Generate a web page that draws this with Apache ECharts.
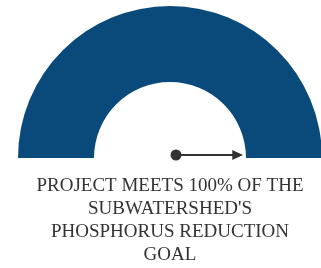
<!DOCTYPE html>
<html>
<head>
<meta charset="utf-8">
<script src="https://cdn.jsdelivr.net/npm/echarts@6/dist/echarts.min.js"></script>
<style>
  html, body { margin: 0; padding: 0; background: #fff; }
  #chart { width: 321px; height: 268px; }
</style>
</head>
<body>
<div id="chart"></div>
<script>
// gauge value (percent of goal met)
var gaugeValues = [100];
var gaugeRange = [0, 100];
// caption lines below the gauge
var captionLines = [
    "PROJECT MEETS 100% OF THE",
    "SUBWATERSHED'S",
    "PHOSPHORUS REDUCTION",
    "GOAL"
];

var chart = echarts.init(document.getElementById('chart'));
var option = {
    animation: false,
    graphic: [{
        type: 'text',
        x: 170,
        y: 175,
        style: {
            text: captionLines.join('\n'),
            textAlign: 'center',
            textVerticalAlign: 'top',
            fontFamily: 'Liberation Serif',
            fontSize: 19,
            lineHeight: 23,
            fill: '#333'
        }
    }],
    series: [{
        type: 'gauge',
        center: [170, 158],
        radius: 152,
        startAngle: 180,
        endAngle: 0,
        min: gaugeRange[0],
        max: gaugeRange[1],
        axisLine: {
            lineStyle: {
                width: 76,
                color: [[1, '#0a4a7a']]
            }
        },
        splitLine: { show: false },
        axisTick: { show: false },
        axisLabel: { show: false },
        pointer: {
            icon: 'path://M4,100 L6,100 L6,16 L10,16 L5,0 L0,16 L4,16 Z',
            length: 67,
            width: 10,
            // offset is in the pointer's own (rotated) frame
            offsetCenter: [-3, -6],
            itemStyle: { color: '#333' }
        },
        anchor: {
            show: true,
            size: 11,
            offsetCenter: [6, -3],
            itemStyle: { color: '#333', borderWidth: 0 }
        },
        title: { show: false },
        detail: { show: false },
        data: gaugeValues.map(function (v) { return { value: v }; })
    }]
};
chart.setOption(option);
</script>
</body>
</html>
